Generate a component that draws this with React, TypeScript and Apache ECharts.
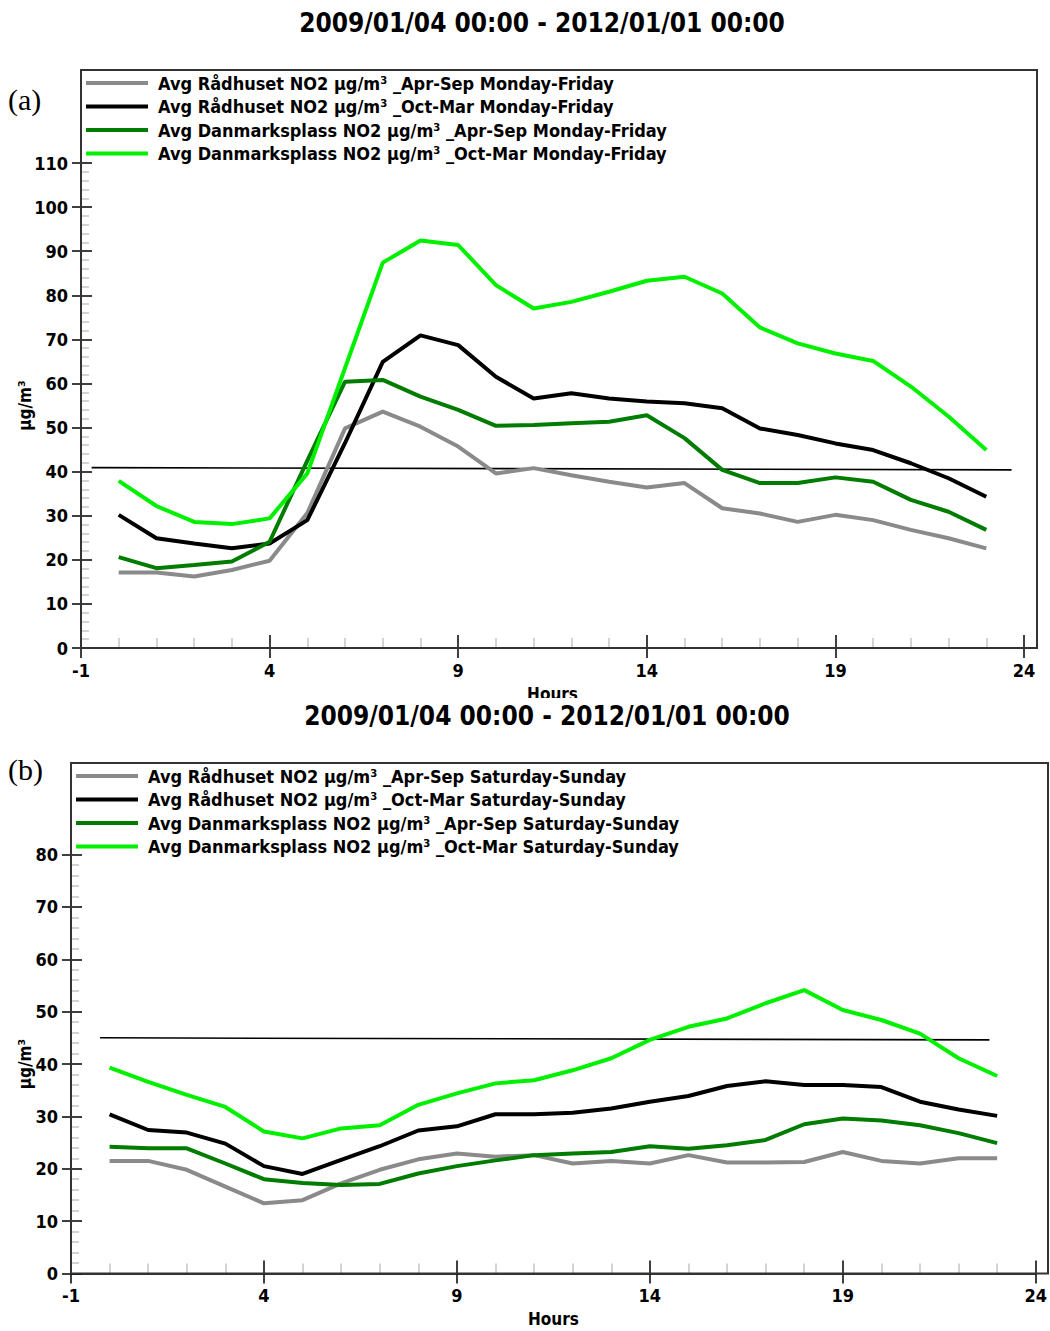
import React, { useEffect, useRef } from "react";
import * as echarts from "echarts";

// Hour of day (0..23)
const hours = [0, 1, 2, 3, 4, 5, 6, 7, 8, 9, 10, 11, 12, 13, 14, 15, 16, 17, 18, 19, 20, 21, 22, 23];

// Panel (a): Monday-Friday hourly averages, NO2 µg/m³
const wdRadhusetAprSep = [17.1, 17.1, 16.2, 17.7, 19.8, 30.6, 49.8, 53.6, 50.2, 45.7, 39.6, 40.8, 39.2, 37.7, 36.4, 37.4, 31.7, 30.5, 28.6, 30.2, 29.0, 26.8, 24.9, 22.6];
const wdRadhusetOctMar = [30.2, 24.9, 23.7, 22.6, 23.7, 29.0, 46.5, 64.9, 70.9, 68.7, 61.5, 56.6, 57.8, 56.6, 55.9, 55.5, 54.4, 49.8, 48.3, 46.4, 44.9, 41.9, 38.5, 34.3];
const wdDanmarksAprSep = [20.6, 18.1, 18.8, 19.6, 24.1, 42.5, 60.4, 60.8, 57.0, 54.0, 50.4, 50.6, 51.0, 51.3, 52.8, 47.6, 40.4, 37.4, 37.4, 38.7, 37.7, 33.6, 30.9, 26.8];
const wdDanmarksOctMar = [37.9, 32.2, 28.6, 28.1, 29.4, 39.6, 63.5, 87.4, 92.4, 91.4, 82.3, 77.0, 78.5, 80.8, 83.3, 84.2, 80.4, 72.7, 69.1, 66.8, 65.1, 59.3, 52.5, 44.9];

// Panel (b): Saturday-Sunday hourly averages, NO2 µg/m³
const weRadhusetAprSep = [21.5, 21.5, 19.8, 16.6, 13.4, 14.0, 17.2, 19.8, 21.8, 22.9, 22.3, 22.6, 21.0, 21.5, 21.0, 22.6, 21.2, 21.2, 21.3, 23.2, 21.5, 21.0, 22.0, 22.0];
const weRadhusetOctMar = [30.4, 27.4, 26.9, 24.8, 20.5, 19.0, 21.7, 24.3, 27.3, 28.1, 30.4, 30.4, 30.7, 31.5, 32.8, 33.9, 35.8, 36.7, 36.0, 36.0, 35.6, 32.8, 31.3, 30.1];
const weDanmarksAprSep = [24.2, 23.9, 23.9, 21.0, 18.0, 17.3, 16.9, 17.1, 19.1, 20.5, 21.6, 22.6, 22.9, 23.2, 24.3, 23.8, 24.5, 25.5, 28.5, 29.6, 29.2, 28.3, 26.8, 24.9];
const weDanmarksOctMar = [39.3, 36.6, 34.1, 31.8, 27.1, 25.8, 27.7, 28.3, 32.2, 34.4, 36.3, 36.9, 38.8, 41.1, 44.6, 47.1, 48.7, 51.6, 54.1, 50.3, 48.4, 45.8, 41.1, 37.7];

// Hand-drawn reference lines [hour, value]
const refLineA = [[-0.72, 40.9], [23.67, 40.4]];
const refLineB = [[-0.25, 45.0], [22.8, 44.6]];

// Axis ticks
const xTicks = [-1, 4, 9, 14, 19, 24];
const yTicksA = [0, 10, 20, 30, 40, 50, 60, 70, 80, 90, 100, 110];
const yTicksB = [0, 10, 20, 30, 40, 50, 60, 70, 80];

const periodTitle = "2009/01/04 00:00 - 2012/01/01 00:00";

const namesA = [
  "Avg Rådhuset NO2 µg/m³ _Apr-Sep Monday-Friday",
  "Avg Rådhuset NO2 µg/m³ _Oct-Mar Monday-Friday",
  "Avg Danmarksplass NO2 µg/m³ _Apr-Sep Monday-Friday",
  "Avg Danmarksplass NO2 µg/m³ _Oct-Mar Monday-Friday",
];
const namesB = [
  "Avg Rådhuset NO2 µg/m³ _Apr-Sep Saturday-Sunday",
  "Avg Rådhuset NO2 µg/m³ _Oct-Mar Saturday-Sunday",
  "Avg Danmarksplass NO2 µg/m³ _Apr-Sep Saturday-Sunday",
  "Avg Danmarksplass NO2 µg/m³ _Oct-Mar Saturday-Sunday",
];
const colors = ["#8a8a8a", "#000000", "#007c00", "#00f000"];

const FONT = "'Liberation Sans Narrow', 'Arial Narrow', 'DejaVu Sans Condensed', sans-serif";
const SERIF = "'Liberation Serif', 'Times New Roman', serif";

function pairs(values: number[]) {
  return hours.map((h, i) => [h, values[i]]);
}

function mainX(gridIndex: number) {
  return {
    type: "value",
    gridIndex,
    position: "bottom",
    min: xTicks[0],
    max: xTicks[xTicks.length - 1],
    interval: xTicks[1] - xTicks[0],
    axisLine: { onZero: false, lineStyle: { color: "#333", width: 2 } },
    axisTick: { inside: false, length: 10, lineStyle: { color: "#000", width: 1.5 } },
    axisLabel: { margin: 13, fontFamily: FONT, fontWeight: "bold", fontSize: 18, color: "#000" },
    splitLine: { show: false },
    name: "Hours",
    nameLocation: "middle",
    nameGap: 37,
    nameMoveOverlap: false,
    nameTextStyle: { fontFamily: FONT, fontWeight: "bold", fontSize: 17, color: "#000" },
  };
}

function overlayX(gridIndex: number) {
  return {
    type: "value",
    gridIndex,
    position: "bottom",
    min: xTicks[0],
    max: xTicks[xTicks.length - 1],
    interval: xTicks[1] - xTicks[0],
    axisLine: { show: false, onZero: false },
    axisLabel: { show: false },
    axisTick: { inside: true, length: 13, lineStyle: { color: "#000", width: 1.5 } },
    minorTick: { show: true, splitNumber: 5, length: 10, lineStyle: { color: "#c4c4c4", width: 1.5 } },
    splitLine: { show: false },
  };
}

function mainY(gridIndex: number, ticks: number[], nameGap: number) {
  return {
    type: "value",
    gridIndex,
    min: ticks[0],
    max: ticks[ticks.length - 1],
    interval: ticks[1] - ticks[0],
    axisLine: { show: true, onZero: false, lineStyle: { color: "#333", width: 2 } },
    axisTick: { show: true, inside: false, length: 9, lineStyle: { color: "#000", width: 1.5 } },
    axisLabel: { margin: 13, fontFamily: FONT, fontWeight: "bold", fontSize: 18, color: "#000" },
    splitLine: { show: false },
    name: "µg/m³",
    nameLocation: "middle",
    nameRotate: 90,
    nameGap,
    nameMoveOverlap: false,
    nameTextStyle: { fontFamily: FONT, fontWeight: "bold", fontSize: 17, color: "#000" },
  };
}

function overlayY(gridIndex: number, ticks: number[]) {
  return {
    type: "value",
    gridIndex,
    position: "left",
    min: ticks[0],
    max: ticks[ticks.length - 1],
    interval: ticks[1] - ticks[0],
    axisLine: { show: false, onZero: false },
    axisLabel: { show: false },
    axisTick: { show: true, inside: true, length: 11, lineStyle: { color: "#000", width: 1.5 } },
    minorTick: { show: true, splitNumber: 5, length: 8, lineStyle: { color: "#c4c4c4", width: 1.5 } },
    splitLine: { show: false },
  };
}

function lineSeries(name: string, values: number[], color: string, axisIndex: number) {
  return {
    type: "line",
    name,
    xAxisIndex: axisIndex,
    yAxisIndex: axisIndex,
    data: pairs(values),
    showSymbol: false,
    symbol: "none",
    lineStyle: { color, width: 4 },
    itemStyle: { color },
    z: 3,
  };
}

function refSeries(data: number[][], axisIndex: number) {
  return {
    type: "line",
    name: "ref" + axisIndex,
    xAxisIndex: axisIndex,
    yAxisIndex: axisIndex,
    data,
    showSymbol: false,
    symbol: "none",
    lineStyle: { color: "#000", width: 1.6 },
    z: 2,
  };
}

function legend(names: string[], left: number, top: number) {
  return {
    data: names,
    orient: "vertical",
    left,
    top,
    icon: "rect",
    itemWidth: 62,
    itemHeight: 4,
    itemGap: 3.5,
    selectedMode: false,
    textStyle: {
      fontFamily: FONT,
      fontWeight: "bold",
      fontSize: 18,
      color: "#000",
      lineHeight: 20,
      padding: [0, 0, 0, 5],
    },
  };
}

function titleText(x: number, y: number) {
  return {
    type: "text",
    x,
    y,
    style: {
      text: periodTitle,
      fontFamily: FONT,
      fontWeight: "bold",
      fontSize: 26,
      fill: "#000",
      align: "center",
      verticalAlign: "middle",
    },
    z: 60,
  };
}

function panelLabel(text: string, y: number) {
  return {
    type: "text",
    x: 8,
    y,
    style: {
      text,
      fontFamily: SERIF,
      fontSize: 30,
      fill: "#000",
      align: "left",
      verticalAlign: "middle",
    },
  };
}

export default function App() {
  const ref = useRef<HTMLDivElement>(null);

  useEffect(() => {
    if (!ref.current) return;
    const chart = echarts.init(ref.current, null, { renderer: "svg" });
    const wdValues = [wdRadhusetAprSep, wdRadhusetOctMar, wdDanmarksAprSep, wdDanmarksOctMar];
    const weValues = [weRadhusetAprSep, weRadhusetOctMar, weDanmarksAprSep, weDanmarksOctMar];

    const option = {
      animation: false,
      backgroundColor: "#fff",
      grid: [
        { left: 81, top: 163, width: 943, height: 485, containLabel: false },
        { left: 71, top: 854.5, width: 967, height: 419, containLabel: false },
      ],
      xAxis: [mainX(0), overlayX(0), mainX(1), overlayX(1)],
      yAxis: [mainY(0, yTicksA, 48), overlayY(0, yTicksA), mainY(1, yTicksB, 38), overlayY(1, yTicksB)],
      legend: [legend(namesA, 81, 68), legend(namesB, 71, 761)],
      series: [
        refSeries(refLineA, 0),
        ...namesA.map((n, i) => lineSeries(n, wdValues[i], colors[i], 0)),
        refSeries(refLineB, 2),
        ...namesB.map((n, i) => lineSeries(n, weValues[i], colors[i], 2)),
      ],
      graphic: [
        {
          type: "rect",
          shape: { x: 81, y: 70, width: 956, height: 578 },
          style: { fill: "none", stroke: "#333", lineWidth: 2 },
          silent: true,
          z: 1,
        },
        {
          type: "rect",
          shape: { x: 71, y: 763, width: 977, height: 510.5 },
          style: { fill: "none", stroke: "#333", lineWidth: 2 },
          silent: true,
          z: 1,
        },
        {
          type: "rect",
          shape: { x: 500, y: 698, width: 120, height: 6 },
          style: { fill: "#fff" },
          silent: true,
          z: 50,
        },
        titleText(542, 23),
        titleText(547, 716),
        panelLabel("(a)", 99),
        panelLabel("(b)", 769),
      ],
    };

    chart.setOption(option as any);
    return () => chart.dispose();
  }, []);

  return (
    <div
      ref={ref}
      style={{ position: "absolute", left: 0, top: 0, width: 1050, height: 1331, background: "#fff" }}
    />
  );
}
